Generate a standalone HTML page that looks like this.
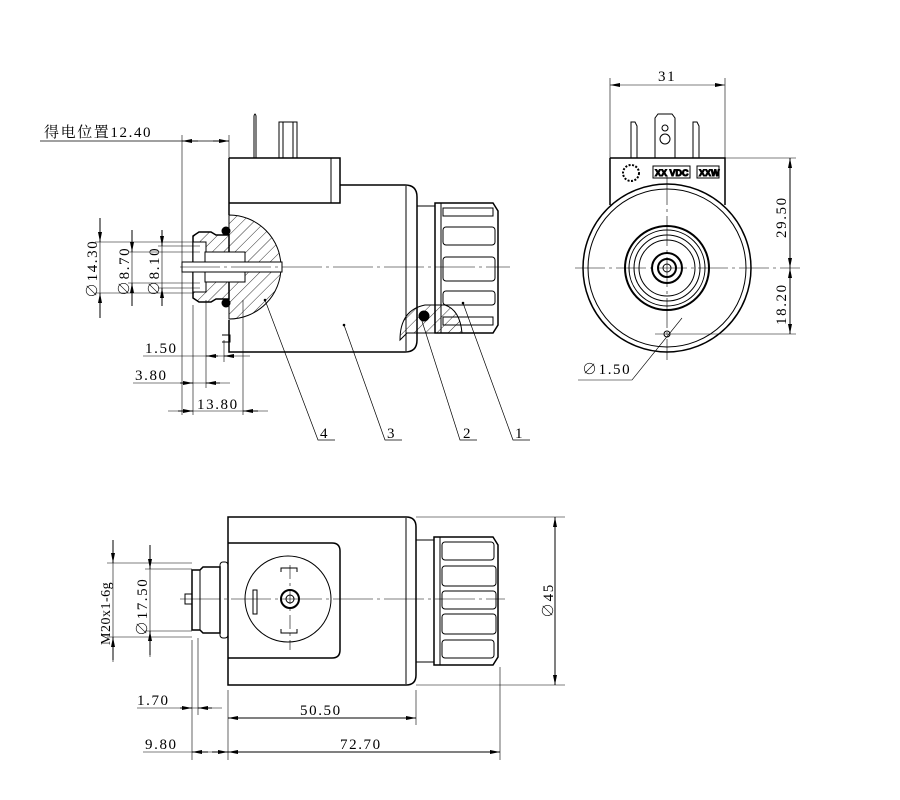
<!DOCTYPE html>
<html><head><meta charset="utf-8"><style>
html,body{margin:0;padding:0;background:#fff}
svg{display:block}
text{font-family:"Liberation Serif","Noto Serif CJK SC",serif;font-size:15px;fill:#000;letter-spacing:1.6px}
</style></head><body>
<svg width="900" height="800" viewBox="0 0 900 800" xmlns="http://www.w3.org/2000/svg">
<defs>
<marker id="a" viewBox="0 0 10 4" refX="10" refY="2" markerWidth="10" markerHeight="4" orient="auto-start-reverse" markerUnits="userSpaceOnUse"><path d="M0,0L10,2L0,4z" fill="#000"/></marker>
<pattern id="h" width="8" height="8" patternUnits="userSpaceOnUse" patternTransform="rotate(45)"><line x1="0" y1="0" x2="0" y2="8" stroke="#000" stroke-width="0.8"/></pattern>
</defs>
<g fill="none" stroke="#000" stroke-width="1">
<path d="M254,158V116q1,-4 2,0V158" />
<rect x="279" y="122" width="18" height="36"/>
<line x1="283" y1="122" x2="283" y2="158"/><line x1="293" y1="122" x2="293" y2="158"/>
<path d="M229,158H340V203H229" stroke-width="1.5"/>
<line x1="331" y1="158" x2="331" y2="203"/>
<path d="M340,185H405q12,0 12,12V340q0,12 -12,12H229V320" stroke-width="1.5"/>
<line x1="406" y1="186" x2="406" y2="351"/>
<line x1="229" y1="158" x2="229" y2="215" stroke-width="1.5"/>
<rect x="417" y="206" width="18" height="127"/>
<path d="M435,203H493l5,8V325l-5,8H435z" stroke-width="1.5"/>
<line x1="441" y1="203" x2="441" y2="333"/>
<rect x="443" y="208" width="50" height="8"/>
<rect x="443" y="227" width="52" height="18" rx="3"/>
<rect x="443" y="257" width="52" height="24" rx="3"/>
<rect x="443" y="291" width="52" height="14" rx="3"/>
<rect x="443" y="317" width="50" height="8"/>
<path d="M400,340q0,-30 25,-35h20q15,5 17,28h-55z" fill="url(#h)"/>
<circle cx="424" cy="316" r="5" fill="#000"/>
<path d="M229,215A52,52 0 0 1 229,319Z" fill="url(#h)"/>
<path d="M193,236l6,-4h12l5,3h13v64h-13l-5,3h-12l-6,-4z" fill="url(#h)" stroke-width="1.5"/>
<rect x="193" y="242" width="13" height="50" fill="#fff"/>
<rect x="205" y="252" width="40" height="30" fill="#fff"/>
<rect x="182" y="262" width="100" height="10" fill="#fff"/>
<circle cx="226" cy="231" r="4" fill="#000"/>
<circle cx="226" cy="303" r="4" fill="#000"/>
<path d="M229,330v22M222,335h8v7h-8"/>
<line x1="180" y1="267" x2="510" y2="267" stroke-width="0.6" stroke-dasharray="40,4,3,4"/>
<line x1="40" y1="141" x2="229" y2="141" stroke-width="0.7"/>
<line x1="182" y1="135" x2="182" y2="415" stroke-width="0.6"/>
<line x1="229" y1="135" x2="229" y2="158" stroke-width="0.6"/>
<line x1="198" y1="141" x2="182" y2="141" marker-end="url(#a)"/>
<line x1="213" y1="141" x2="229" y2="141" marker-end="url(#a)"/>
<g stroke-width="0.6">
<line x1="95" y1="242" x2="193" y2="242"/><line x1="95" y1="293" x2="193" y2="293"/>
<line x1="128" y1="252" x2="200" y2="252"/><line x1="128" y1="283" x2="200" y2="283"/>
<line x1="158" y1="246" x2="200" y2="246"/><line x1="158" y1="288" x2="200" y2="288"/>
</g>
<line x1="100" y1="218" x2="100" y2="242" marker-end="url(#a)"/><line x1="100" y1="318" x2="100" y2="293" marker-end="url(#a)"/><line x1="100" y1="242" x2="100" y2="293" stroke-width="0.6"/>
<line x1="132" y1="230" x2="132" y2="252" marker-end="url(#a)"/><line x1="132" y1="306" x2="132" y2="283" marker-end="url(#a)"/><line x1="132" y1="252" x2="132" y2="283" stroke-width="0.6"/>
<line x1="162" y1="230" x2="162" y2="246" marker-end="url(#a)"/><line x1="162" y1="306" x2="162" y2="288" marker-end="url(#a)"/><line x1="162" y1="246" x2="162" y2="288" stroke-width="0.6"/>
<g stroke-width="0.6">
<line x1="193" y1="305" x2="193" y2="415"/><line x1="206" y1="300" x2="206" y2="388"/>
<line x1="243" y1="300" x2="243" y2="415"/><line x1="224" y1="340" x2="224" y2="362"/>
<line x1="143" y1="356" x2="250" y2="356"/><line x1="133" y1="383" x2="230" y2="383"/><line x1="168" y1="411" x2="268" y2="411"/>
</g>
<line x1="218" y1="356" x2="206" y2="356" marker-end="url(#a)"/><line x1="234" y1="356" x2="224" y2="356" marker-end="url(#a)"/>
<line x1="180" y1="383" x2="193" y2="383" marker-end="url(#a)"/><line x1="220" y1="383" x2="206" y2="383" marker-end="url(#a)"/>
<line x1="178" y1="411" x2="193" y2="411" marker-end="url(#a)"/><line x1="258" y1="411" x2="243" y2="411" marker-end="url(#a)"/>
<g stroke-width="0.7">
<path d="M265,300L318,440H335"/><path d="M344,325L385,440H402"/><path d="M421,318L460,440H477"/><path d="M463,303L513,440H530"/>
</g>
<g fill="#000" stroke="none"><circle cx="265" cy="300" r="1.3"/><circle cx="344" cy="325" r="1.3"/><circle cx="463" cy="303" r="1.3"/></g>

<path d="M631,158V122h4l2,4V158M693,158V122h4l2,4V158" />
<path d="M655,158V118l3,-4h14l3,4V158"/>
<circle cx="665" cy="128" r="3"/><circle cx="665" cy="139" r="5"/>
<path d="M610,158H725V205" stroke-width="1.5"/>
<path d="M610,158V205" stroke-width="1.5"/>
<circle cx="631" cy="173" r="8" stroke-dasharray="2,1.5" stroke-width="2"/>
<rect x="653" y="166" width="37" height="12"/><rect x="697" y="166" width="22" height="12"/>
<text x="655" y="176" style="font-family:'Liberation Sans',sans-serif;font-size:9px;font-weight:bold;letter-spacing:0">XX VDC</text>
<text x="699" y="176" style="font-family:'Liberation Sans',sans-serif;font-size:9px;font-weight:bold;letter-spacing:0">XXW</text>
<circle cx="667" cy="268" r="84" stroke-width="1.5"/>
<circle cx="667" cy="268" r="79"/>
<circle cx="667" cy="268" r="42" stroke-width="2"/>
<circle cx="667" cy="268" r="38"/><circle cx="667" cy="268" r="33"/><circle cx="667" cy="268" r="28"/>
<circle cx="667" cy="268" r="15" stroke-width="2"/><circle cx="667" cy="268" r="9" stroke-width="2"/><circle cx="667" cy="268" r="4"/>
<circle cx="667" cy="334" r="3"/>
<line x1="575" y1="268" x2="800" y2="268" stroke-width="0.6" stroke-dasharray="30,4,3,4"/>
<line x1="667" y1="175" x2="667" y2="360" stroke-width="0.6" stroke-dasharray="30,4,3,4"/>
<g stroke-width="0.6"><line x1="610" y1="78" x2="610" y2="158"/><line x1="725" y1="78" x2="725" y2="158"/>
<line x1="725" y1="158" x2="796" y2="158"/><line x1="655" y1="334" x2="796" y2="334"/>
<line x1="790" y1="158" x2="790" y2="334"/><path d="M682,318L632,380H578"/></g>
<line x1="610" y1="85" x2="725" y2="85" stroke-width="0.6" marker-start="url(#a)" marker-end="url(#a)"/>
<line x1="790" y1="268" x2="790" y2="158" marker-end="url(#a)"/><line x1="790" y1="240" x2="790" y2="268" marker-end="url(#a)"/>
<line x1="790" y1="300" x2="790" y2="268" marker-end="url(#a)"/><line x1="790" y1="300" x2="790" y2="334" marker-end="url(#a)"/>

<path d="M228,517H406q10,0 10,10V675q0,10 -10,10H228Z" stroke-width="1.5"/>
<line x1="406" y1="518" x2="406" y2="684"/>
<path d="M228,543H332q8,0 8,8V650q0,8 -8,8H228" stroke-width="1.5"/>
<rect x="416" y="540" width="18" height="122"/>
<path d="M434,537H493l5,8V657l-5,8H434z" stroke-width="1.5"/>
<line x1="440" y1="537" x2="440" y2="665"/>
<rect x="442" y="542" width="52" height="18" rx="3"/>
<rect x="442" y="566" width="54" height="20" rx="3"/>
<rect x="442" y="591" width="54" height="18" rx="3"/>
<rect x="442" y="614" width="54" height="20" rx="3"/>
<rect x="442" y="640" width="52" height="18" rx="3"/>
<circle cx="288" cy="599" r="43"/>
<circle cx="290" cy="599" r="9" stroke-width="2"/><circle cx="290" cy="599" r="4"/>
<rect x="253" y="590" width="4" height="24"/>
<path d="M281,572v-4h16v4M281,629v4h16v-4"/>
<path d="M192,570h8l3,-3h17v66h-17l-3,-3h-8z" stroke-width="1.5"/>
<line x1="200" y1="570" x2="200" y2="630"/>
<rect x="220" y="562" width="8" height="76" rx="3"/>
<rect x="185" y="594" width="7" height="10"/>
<line x1="180" y1="599" x2="505" y2="599" stroke-width="0.6" stroke-dasharray="40,4,3,4"/>
<line x1="290" y1="565" x2="290" y2="650" stroke-width="0.6" stroke-dasharray="14,4,3,4"/>
<g stroke-width="0.6">
<line x1="107" y1="563" x2="192" y2="563"/><line x1="107" y1="637" x2="192" y2="637"/>
<line x1="145" y1="569" x2="192" y2="569"/><line x1="145" y1="631" x2="192" y2="631"/>
<line x1="113" y1="540" x2="113" y2="662"/><line x1="150" y1="545" x2="150" y2="657"/>
<line x1="416" y1="517" x2="565" y2="517"/><line x1="416" y1="685" x2="565" y2="685"/>
<line x1="192" y1="640" x2="192" y2="760"/><line x1="198" y1="638" x2="198" y2="715"/>
<line x1="228" y1="690" x2="228" y2="760"/><line x1="416" y1="690" x2="416" y2="725"/><line x1="500" y1="667" x2="500" y2="760"/>
<line x1="137" y1="708" x2="222" y2="708"/><line x1="143" y1="752" x2="500" y2="752"/><line x1="228" y1="718" x2="416" y2="718"/>
</g>
<line x1="113" y1="540" x2="113" y2="563" marker-end="url(#a)"/><line x1="113" y1="660" x2="113" y2="637" marker-end="url(#a)"/>
<line x1="150" y1="545" x2="150" y2="569" marker-end="url(#a)"/><line x1="150" y1="655" x2="150" y2="631" marker-end="url(#a)"/>
<line x1="555" y1="517" x2="555" y2="685" marker-start="url(#a)" marker-end="url(#a)"/>
<line x1="180" y1="708" x2="192" y2="708" marker-end="url(#a)"/><line x1="212" y1="708" x2="198" y2="708" marker-end="url(#a)"/>
<line x1="228" y1="718" x2="416" y2="718" marker-start="url(#a)" marker-end="url(#a)"/>
<line x1="208" y1="752" x2="192" y2="752" marker-end="url(#a)"/><line x1="212" y1="752" x2="228" y2="752" marker-end="url(#a)"/>
<line x1="228" y1="752" x2="500" y2="752" marker-start="url(#a)" marker-end="url(#a)"/>
</g>
<text x="44" y="137">得电位置12.40</text>
<text transform="translate(97,298) rotate(-90)">∅14.30</text>
<text transform="translate(129,296) rotate(-90)">∅8.70</text>
<text transform="translate(159,296) rotate(-90)">∅8.10</text>
<text x="145" y="353">1.50</text>
<text x="135" y="380">3.80</text>
<text x="197" y="409">13.80</text>
<text x="320" y="438">4</text><text x="387" y="438">3</text><text x="463" y="438">2</text><text x="515" y="438">1</text>
<text x="658" y="81">31</text>
<text transform="translate(786,238) rotate(-90)">29.50</text>
<text transform="translate(786,325) rotate(-90)">18.20</text>
<text x="582" y="374">∅1.50</text>
<text transform="translate(110,645) rotate(-90)" style="font-size:14px;letter-spacing:0.5px">M20x1-6g</text>
<text transform="translate(147,636) rotate(-90)">∅17.50</text>
<text transform="translate(553,618) rotate(-90)">∅45</text>
<text x="137" y="705">1.70</text>
<text x="300" y="715">50.50</text>
<text x="145" y="749">9.80</text>
<text x="340" y="749">72.70</text>
</svg>
</body></html>
